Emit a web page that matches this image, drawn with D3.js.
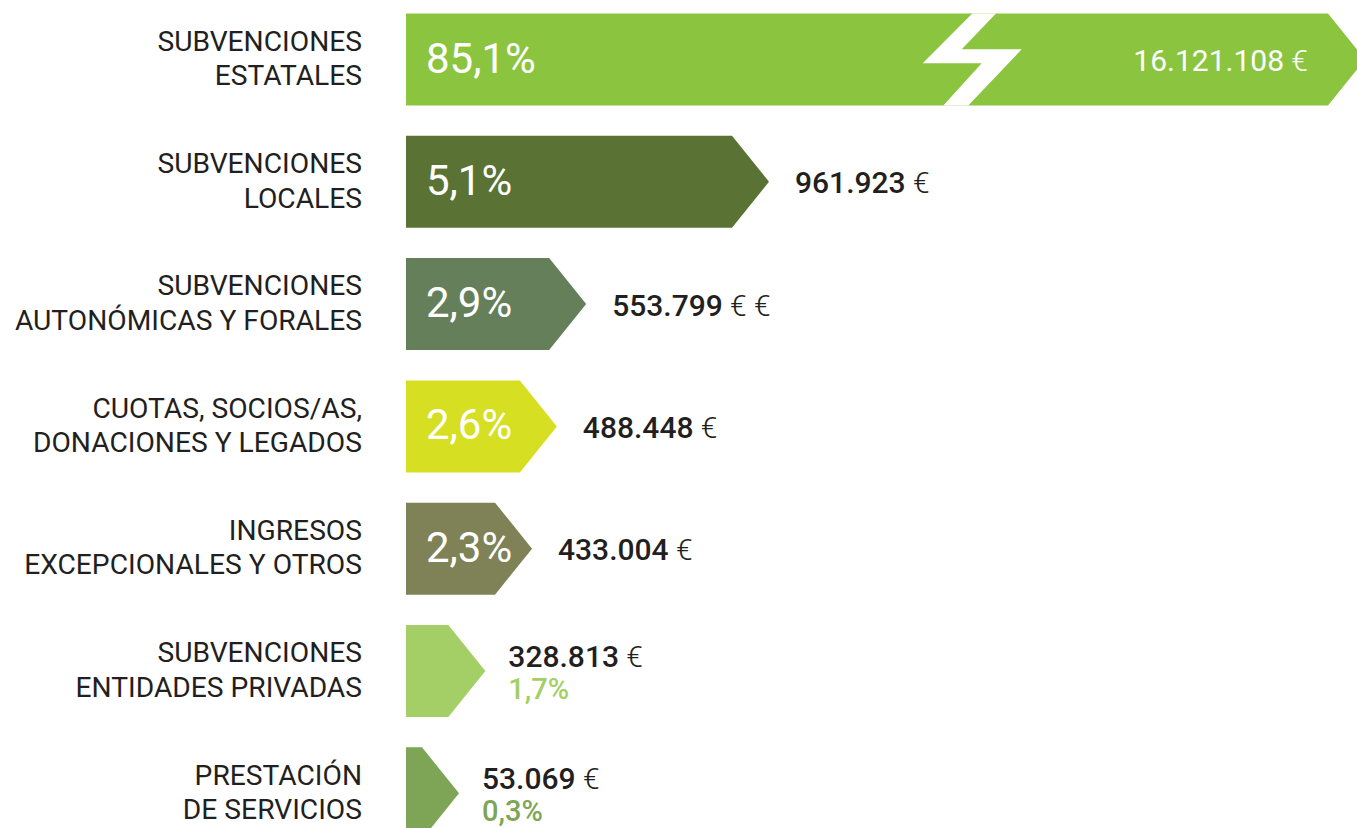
<!DOCTYPE html>
<html>
<head>
<meta charset="utf-8">
<script src="https://cdn.jsdelivr.net/npm/d3@7"></script>
<style>
  html, body { margin: 0; padding: 0; background: #fff; }
  svg { display: block; font-family: Roboto, "DejaVu Sans", sans-serif; }
</style>
</head>
<body>
<svg id="chart"></svg>
<script>
// datos
const categories = [
  ["SUBVENCIONES", "ESTATALES"],
  ["SUBVENCIONES", "LOCALES"],
  ["SUBVENCIONES", "AUTONÓMICAS Y FORALES"],
  ["CUOTAS, SOCIOS/AS,", "DONACIONES Y LEGADOS"],
  ["INGRESOS", "EXCEPCIONALES Y OTROS"],
  ["SUBVENCIONES", "ENTIDADES PRIVADAS"],
  ["PRESTACIÓN", "DE SERVICIOS"]
];
const percents = [85.1, 5.1, 2.9, 2.6, 2.3, 1.7, 0.3];
const amounts = [16121108, 961923, 553799, 488448, 433004, 328813, 53069];
const amountLabels = ["16.121.108 €", "961.923 €", "553.799 € €", "488.448 €", "433.004 €", "328.813 €", "53.069 €"];
const colors = ["#8bc540", "#5a7334", "#667f5b", "#d6df22", "#7f8157", "#a3cf66", "#7ea555"];

const width = 1357, height = 828;
const svg = d3.select("#chart").attr("width", width).attr("height", height);

const x0 = 406;      // inicio de las barras
const tip = 37;      // punta de flecha
const brokenEnd = 1328; // barra cortada (85,1%)

const pctFmt = d3.formatLocale({decimal: ",", thousands: ".", grouping: [3], currency: ["", ""]}).format(".1f");

const y = d3.scaleBand()
    .domain(d3.range(categories.length))
    .range([13.5, 839.3])
    .paddingInner(0.2477)
    .paddingOuter(0);

// ancho del cuerpo de la barra segun importe (la primera va cortada)
const w = d3.scaleLinear()
    .domain([270000, 961923])
    .range([16, 326])
    .clamp(true);

const rows = categories.map((c, i) => ({
  i: i,
  lines: c,
  pct: percents[i],
  amount: amounts[i],
  num: amountLabels[i].split(" ")[0],
  cur: amountLabels[i].slice(amountLabels[i].indexOf(" ")),
  color: colors[i],
  body: i === 0 ? brokenEnd - x0 : w(amounts[i])
}));

function arrow(d) {
  const t = y(d.i), h = y.bandwidth(), e = x0 + d.body;
  return d3.line()([[x0, t], [e, t], [e + tip, t + h / 2], [e, t + h], [x0, t + h]]) + "Z";
}

const g = svg.selectAll("g.row")
  .data(rows)
  .enter().append("g")
    .attr("class", "row");

g.append("path")
    .attr("d", arrow)
    .attr("fill", d => d.color);

// corte en zigzag de la barra grande
const t0 = y(0), h0 = y.bandwidth();
svg.append("path")
    .attr("fill", "#fff")
    .attr("d", d3.line()([
      [972.3, t0], [996, t0], [961.7, t0 + 35.8], [1021.7, t0 + 35.8],
      [968.3, t0 + h0], [943.3, t0 + h0], [981.7, t0 + 49.8], [922.7, t0 + 49.8]
    ]) + "Z");

// etiquetas de categoria
g.append("text")
    .attr("text-anchor", "end")
    .attr("fill", "#231f20")
    .attr("font-size", 28.2)
    .selectAll("tspan")
    .data(d => d.lines.map((l, k) => ({l: l, k: k, n: d.lines.length, c: y(d.i) + y.bandwidth() / 2})))
    .enter().append("tspan")
      .attr("x", 362)
      .attr("y", d => d.c + (d.k - (d.n - 1) / 2) * 34.5 + 8.5)
      .text(d => d.l);

// porcentaje dentro de la barra
const big = rows.filter(d => d.pct >= 2);
svg.selectAll("text.pct")
  .data(big)
  .enter().append("text")
    .attr("class", "pct")
    .attr("x", 426)
    .attr("y", d => y(d.i) + y.bandwidth() / 2 + 13)
    .attr("fill", "#fff")
    .attr("font-size", 42)
    .text(d => pctFmt(d.pct) + "%");

// importes
const val = svg.selectAll("text.val")
  .data(rows)
  .enter().append("text")
    .attr("class", "val")
    .attr("text-anchor", d => d.i === 0 ? "end" : "start")
    .attr("x", d => d.i === 0 ? 1308 : x0 + d.body + tip + (d.pct >= 2 ? 26 : 23))
    .attr("y", d => y(d.i) + y.bandwidth() / 2 + (d.pct >= 2 ? 11.5 : -4))
    .attr("fill", d => d.i === 0 ? "#fff" : "#231f20")
    .attr("font-size", 30);

val.append("tspan")
    .attr("font-weight", d => d.i === 0 ? 400 : 500)
    .text(d => d.num);
val.append("tspan")
    .attr("font-weight", 300)
    .text(d => d.cur);

// porcentaje fuera de la barra (barras pequeñas)
svg.selectAll("text.pct-small")
  .data(rows.filter(d => d.pct < 2))
  .enter().append("text")
    .attr("class", "pct-small")
    .attr("x", d => x0 + d.body + tip + 23)
    .attr("y", d => y(d.i) + y.bandwidth() / 2 + 28)
    .attr("fill", d => d.color)
    .attr("font-size", 29)
    .attr("font-weight", 500)
    .text(d => pctFmt(d.pct) + "%");
</script>
</body>
</html>
